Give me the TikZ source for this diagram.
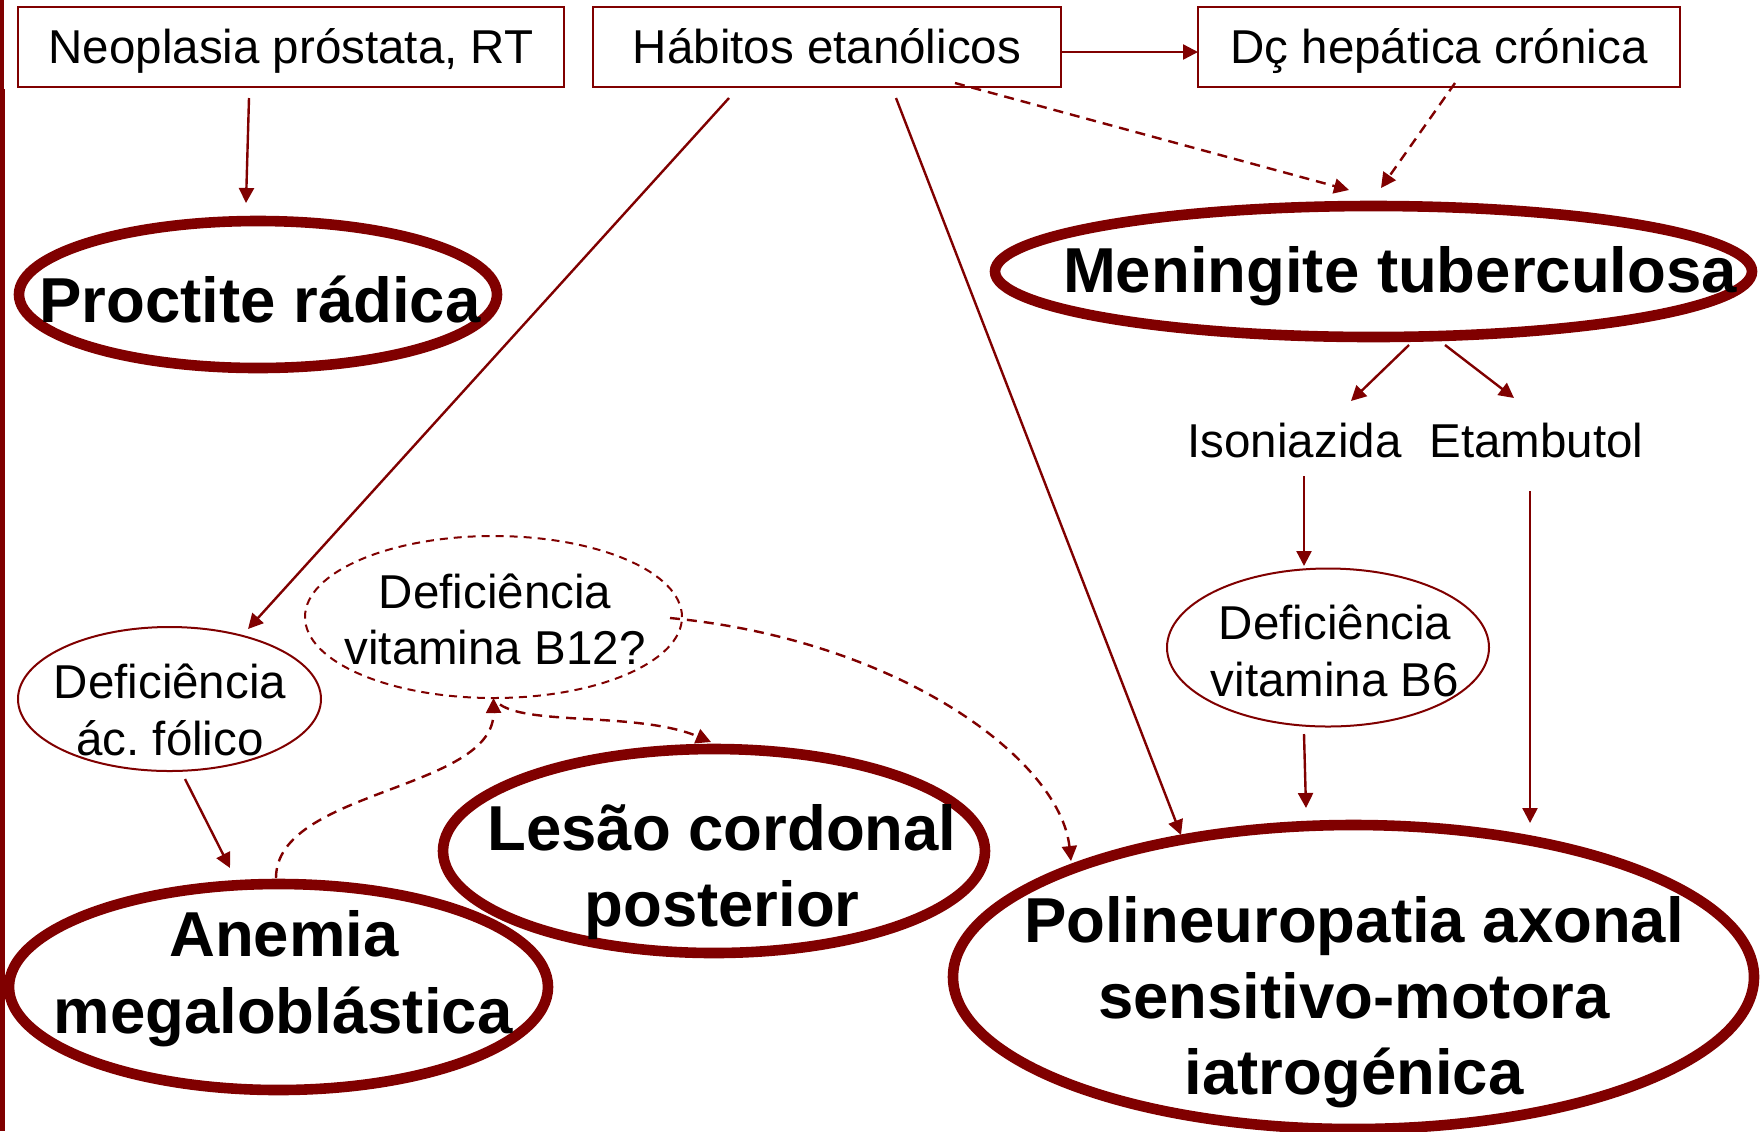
\documentclass[tikz,border=0pt]{standalone}
\usepackage{fontspec}
\setmainfont{Liberation Sans}
\usetikzlibrary{shapes.geometric,arrows.meta,calc}
\definecolor{dred}{RGB}{128,0,0}
\frenchspacing
\begin{document}
\begin{tikzpicture}[x=0.5pt,y=-0.5pt,
  box/.style={draw=dred,line width=1.2pt,rectangle,minimum height=40pt,inner sep=0pt,outer sep=0pt,
    font=\fontsize{23.75pt}{28pt}\selectfont,text height=16pt,text depth=0pt},
  bigell/.style={draw=dred,line width=5.3pt,ellipse,inner sep=0pt,outer sep=0pt},
  smallell/.style={draw=dred,line width=1pt,ellipse,inner sep=0pt,outer sep=0pt},
  dashell/.style={smallell,dash pattern=on 4pt off 3pt},
  big/.style={anchor=base,inner sep=0pt,font=\fontsize{31.75pt}{38pt}\selectfont\bfseries},
  reg/.style={anchor=base,inner sep=0pt,font=\fontsize{23.75pt}{28pt}\selectfont},
  conn/.style={draw=dred,line width=1.2pt,-{Triangle[length=7.5pt,width=7.5pt]}},
  dconn/.style={conn,dash pattern=on 5pt off 3.5pt}
]
\useasboundingbox (0,0) rectangle (1760,1131);
\fill[white] (0,0) rectangle (1760,1131);
% left border bar
\fill[dred] (0,0) rectangle (3.5,89);
\fill[dred] (0,89) rectangle (5,1131);

% top boxes
\node[box,minimum width=273pt] (neo) at (291,47) {Neoplasia próstata, RT};
\node[box,minimum width=234pt] (hab) at (827,47) {Hábitos etanólicos};
\node[box,minimum width=241pt] (dc)  at (1439,47) {Dç hepática crónica};

% ellipses
\node[bigell,minimum width=239pt,minimum height=73.5pt] (proc) at (258,294.5) {};
\node[bigell,minimum width=378.5pt,minimum height=65.5pt] (men) at (1373.5,271.5) {};
\node[bigell,minimum width=400.5pt,minimum height=152pt] (pol) at (1353.5,977) {};
\node[bigell,minimum width=271pt,minimum height=102pt] (les) at (714,851) {};
\node[bigell,minimum width=269.5pt,minimum height=103pt] (ane) at (278.5,987) {};
\node[smallell,minimum width=151.5pt,minimum height=72pt] (fol) at (169.5,699) {};
\node[dashell,minimum width=188.5pt,minimum height=81pt] (b12) at (493.5,617) {};
\node[smallell,minimum width=161pt,minimum height=79pt] (b6) at (1328,647.5) {};

% texts
\node[big] (tproc) at (260,322) {Proctite rádica};
\node[big] (tmen) at (1400,292) {Meningite tuberculosa};
\node[big] (tpol1) at (1354,942) {Polineuropatia axonal};
\node[big] (tpol2) at (1354,1018) {sensitivo-motora};
\node[big] (tpol3) at (1354,1094) {iatrogénica};
\node[big] (tles1) at (722,850) {Lesão cordonal};
\node[big] (tles2) at (722,926) {posterior};
\node[big] (tane1) at (284,956) {Anemia};
\node[big] (tane2) at (283,1033) {megaloblástica};
\node[reg] (tfol1) at (170,698) {Deficiência};
\node[reg] (tfol2) at (170,755) {ác. fólico};
\node[reg] (tb121) at (495,608) {Deficiência};
\node[reg] (tb122) at (495,664) {vitamina B12?};
\node[reg] (tb61) at (1335,639) {Deficiência};
\node[reg] (tb62) at (1335,696) {vitamina B6};
\node[reg] (iso) at (1294.5,457) {Isoniazida};
\node[reg] (eta) at (1536.5,457) {Etambutol};

% connectors
\draw[conn] ($(neo.south)+(-42,11)$) -- ($(proc.north)+(-12,-18)$);
\draw[conn] ($(hab.east)+(0,5)$) -- ($(dc.west)+(0,5)$);
\draw[conn] ($(hab.south)+(-98,11)$) -- ($(fol.north)+(78.5,2)$);
\draw[conn] ($(hab.south)+(69,11)$) -- ($(pol.north)+(-172.5,10)$);
\draw[dconn] ($(hab.south)+(128,-4)$) -- ($(men.north)+(-24.5,-16)$);
\draw[dconn] ($(dc.south)+(16,-4)$) -- ($(men.north)+(7.5,-18)$);
\draw[conn] ($(men.south)+(35.5,8)$) -- ($(iso.base)+(56.5,-56)$);
\draw[conn] ($(men.south)+(71.5,8)$) -- ($(eta.base)+(-22.5,-59)$);
\draw[conn] ($(iso.base)+(9.5,19)$) -- ($(b6.north)+(-24,-2.5)$);
\draw[conn] ($(b6.south)+(-24,7.5)$) -- ($(pol.north)+(-47.5,-17)$);
\draw[conn] ($(eta.base)+(-6.5,34)$) -- ($(pol.north)+(176.5,-2)$);
\draw[conn] ($(fol.south)+(15.5,8)$) -- ($(ane.north)+(-48.5,-16)$);
\draw[dconn] ($(ane.north)+(-2.5,-6)$) .. controls +(0,-88) and +(0.5,92.5) .. (b12.south);
\draw[dconn] ($(b12.south)+(6.5,6.5)$) .. controls +(30,21) and +(-71,-30) .. ($(les.north)+(-3,-7)$);
\draw[dconn] ($(b12.east)+(-12,1)$) .. controls +(230,22) and +(-11,-101) .. ($(pol.north)+(-282.5,36)$);
\end{tikzpicture}
\end{document}
